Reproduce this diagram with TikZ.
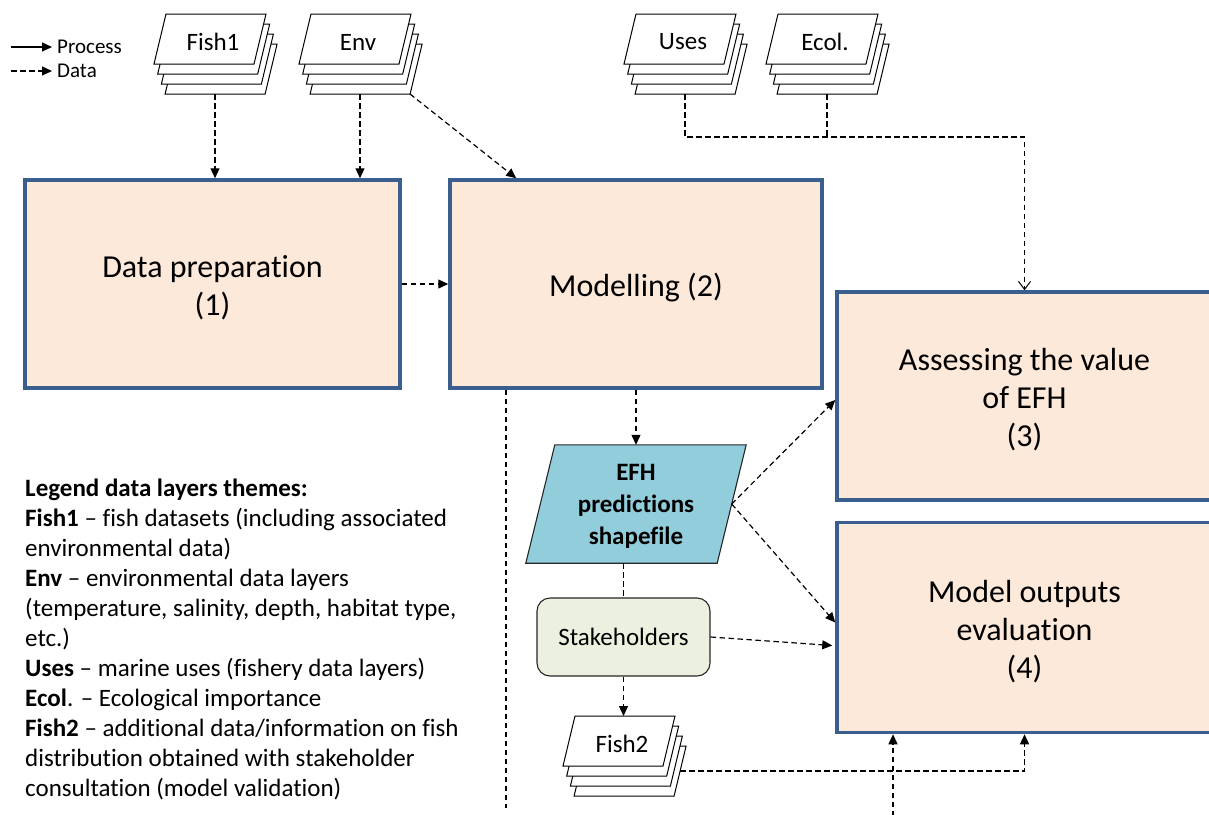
\documentclass[tikz,border=0pt]{standalone}
\usepackage{fontspec}
\setmainfont{Carlito}[Ligatures=NoCommon]
\usetikzlibrary{arrows.meta,calc}

\definecolor{procfill}{HTML}{FDE9D9}
\definecolor{procline}{HTML}{3A5F8E}
\definecolor{efhfill}{HTML}{92CDDC}
\definecolor{stkfill}{HTML}{EBF1DE}

\tikzset{
  procbox/.style={draw=procline, line width=3.5pt, fill=procfill,
    minimum width=375pt, minimum height=208pt, align=center,
    font=\fontsize{32}{38}\selectfont},
  sheet/.style={draw=black, fill=white, line width=1pt, line join=miter},
  sheetlabel/.style={font=\fontsize{25}{30}\selectfont, inner sep=0pt},
  data/.style={line width=1.2pt, dash pattern=on 5.5pt off 3.5pt,
    -{Triangle[length=10pt,width=9pt]}},
  dataline/.style={line width=1.2pt, dash pattern=on 5.5pt off 3.5pt},
  dataopen/.style={line width=1.2pt, dash pattern=on 5.5pt off 3.5pt,
    -{Straight Barb[length=8pt,width=12pt,line width=1pt]}},
  process/.style={line width=1.2pt, -{Triangle[length=10pt,width=9pt]}},
  keytext/.style={font=\fontsize{21}{25}\selectfont, anchor=west, inner sep=0pt},
}

% a stack of four sheets (data layer); #1 name, #2 left x of the front sheet's
% lower edge, #3 top y of the front sheet, #4 label
\newcommand\layerstack[4]{%
  \foreach \k in {3,2,1,0} {
    \draw[sheet] ({#2+3.7*\k},{#3+10*\k+50}) -- ++(12,-50) -- ++(100,0)
      -- ++(-12,50) -- cycle;
  }
  \node[sheetlabel] (#1) at ({#2+59},{#3+28}) {#4};
  \coordinate (#1-b) at ({#2+61},{#3+80});
  \coordinate (#1-br) at ({#2+111},{#3+80});
  \coordinate (#1-r) at ({#2+117},{#3+55});
}

\begin{document}
\begin{tikzpicture}[x=1pt,y=-1pt]
\useasboundingbox (0,0) rectangle (1209,814);

% key
\coordinate (kp) at (11,47);
\coordinate (kd) at (11,71);
\node[keytext] (kproc) at (57,47) {Process};
\node[keytext] (kdata) at (57,71) {Data};
\draw[process] (kp) -- (kproc.west -| 52,0);
\draw[data] (kd) -- (kdata.west -| 52,0);

% data layers
\layerstack{fish1}{154}{14}{Fish1}
\layerstack{env}{299}{14}{Env}
\layerstack{uses}{624}{14}{Uses}
\layerstack{ecol}{766}{14}{Ecol.}
\layerstack{fish2}{563}{716}{Fish2}

% process boxes
\node[procbox] (prep) at (212.5,284) {\rule{0pt}{30pt}Data preparation\\(1)};
\node[procbox, minimum width=372pt] (mod) at (636,284) {\rule{0pt}{30pt}Modelling (2)};
\node[procbox] (ass) at (1024.5,396) {\rule{0pt}{30pt}Assessing the value\\of EFH\\(3)};
\node[procbox, minimum height=210pt] (eval) at (1024.5,627.5) {\rule{0pt}{30pt}Model outputs\\evaluation\\(4)};

% EFH predictions (parallelogram)
\node[minimum width=191pt, minimum height=118pt, inner sep=0pt] (efh) at (636,504) {};
\draw[fill=efhfill, draw=black!85, line width=1.1pt]
  ($(efh.south west)+(-14.5,0)$) -- ($(efh.north west)+(14.5,0)$)
  -- ($(efh.north east)+(14.5,0)$) -- ($(efh.south east)+(-14.5,0)$) -- cycle;
\node[align=center, font=\bfseries\fontsize{25}{32}\selectfont] (efhtext) at (636,506)
  {EFH\\predictions\\shapefile};

% stakeholders
\node[draw=black!85, fill=stkfill, line width=1.1pt, rounded corners=13pt,
  minimum width=173pt, minimum height=78pt,
  font=\fontsize{25}{30}\selectfont] (stk) at (623.5,637) {Stakeholders};

% legend of the data layers
\node[anchor=north west, align=left, inner sep=0pt,
  font=\fontsize{25}{30}\selectfont] (legend) at (25,479) {%
\textbf{Legend data layers themes:}\\
\textbf{Fish1} – fish datasets (including associated\\
environmental data)\\
\textbf{Env} – environmental data layers\\
(temperature, salinity, depth, habitat type,\\
etc.)\\
\textbf{Uses} – marine uses (fishery data layers)\\
\textbf{Ecol}. – Ecological importance\\
\textbf{Fish2} – additional data/information on fish\\
distribution obtained with stakeholder\\
consultation (model validation)};

% data flows
\coordinate (bus) at (0,137);
\coordinate (drop) at (506,808);
\coordinate (feed) at (893,816);

\draw[data] (fish1-b) -- (fish1-b |- prep.north);
\draw[data] (env-b) -- (env-b |- prep.north);
\draw[data] (env-br) -- ($(mod.north west)+(68,0)$);
\draw[data] (prep.east) -- (mod.west);
\draw[dataline] (ecol-b) -- (ecol-b |- bus);
\draw[dataopen] (uses-b) |- (bus -| ass.north) -- (ass.north);
\draw[data] (mod.south -| efh.north) -- (efh.north);
\draw[dataline] (drop |- mod.south) -- (drop);
\draw[data] (efh.east) -- ($(ass.west)+(0,4)$);
\draw[data] (efh.east) -- ($(eval.west)+(0,-5)$);
\draw[dataline] (efh.south -| stk.north) -- (stk.north);
\draw[data] (stk.east) -- ($(eval.west)+(-3,18)$);
\draw[data] (stk.south) -- (stk.south |- 0,716);
\draw[data] (fish2-r) -| (eval.south);
\draw[data] (feed) -- (feed |- eval.south);
\end{tikzpicture}
\end{document}
